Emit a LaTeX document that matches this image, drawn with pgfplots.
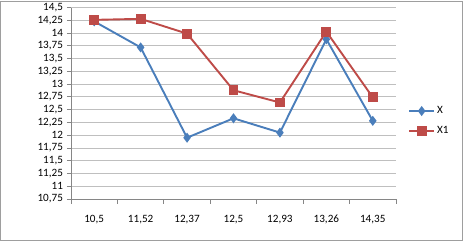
\documentclass[border=0pt]{standalone}
\usepackage{pgfplots}
\pgfplotsset{compat=1.18}
\usepackage{fontspec}
\setmainfont{Carlito}
\definecolor{sblue}{HTML}{4A7EBB}
\definecolor{sred}{HTML}{BE4B48}
\definecolor{gridg}{HTML}{BFBFBF}
\definecolor{axg}{HTML}{868686}
\begin{document}
\begin{tikzpicture}[x=1bp,y=1bp]
\draw[axg!80, line width=0.8bp] (-70.6bp,-41.6bp) rectangle (391.6bp,197.6bp);
\begin{axis}[
  at={(0,0)}, anchor=south west,
  scale only axis, width=325bp, height=191.3bp,
  xmin=-0.5, xmax=6.5, ymin=10.75, ymax=14.5,
  axis x line*=bottom, axis y line*=left,
  axis line style={axg, line width=0.8bp},
  xtick={0,...,6},
  xticklabels={{10,5},{11,52},{12,37},{12,5},{12,93},{13,26},{14,35}},
  major x tick style={draw=none},
  minor xtick={-0.5,0.5,...,6.5},
  minor x tick style={axg, line width=0.8bp},
  minor tick length=5bp,
  xtick align=outside,
  ytick={10.75,11,...,14.5},
  ytick align=outside,
  major tick length=4bp,
  y tick style={axg, line width=0.8bp},
  ymajorgrids, major grid style={gridg, line width=0.8bp},
  /pgf/number format/use comma,
  /pgf/number format/assume math mode=true,
  tick label style={font=\fontsize{11.2}{13}\selectfont, black},
  xticklabel style={yshift=-9bp},
  yticklabel style={xshift=-0.5bp},
  legend style={at={(1.037,0.408)}, anchor=west, draw=none, fill=none,
    font=\fontsize{11.2}{13}\selectfont, row sep=7bp, inner sep=0pt,
    legend cell align=left},
  legend image code/.code={
    \draw[#1, mark repeat=2, mark phase=2] plot coordinates {(0bp,0bp) (12.5bp,0bp) (25bp,0bp)};},
  clip=false,
]
\addplot[sblue, line width=1.9bp, mark=diamond*, mark size=3.5bp, mark options={solid}]
  coordinates {(0,14.23) (1,13.72) (2,11.95) (3,12.33) (4,12.05) (5,13.88) (6,12.28)};
\addlegendentry{X}
\addplot[sred, line width=1.9bp, mark=square*, mark size=4bp, mark options={solid}]
  coordinates {(0,14.26) (1,14.28) (2,13.99) (3,12.88) (4,12.64) (5,14.03) (6,12.74)};
\addlegendentry{X1}
\end{axis}
\end{tikzpicture}
\end{document}
